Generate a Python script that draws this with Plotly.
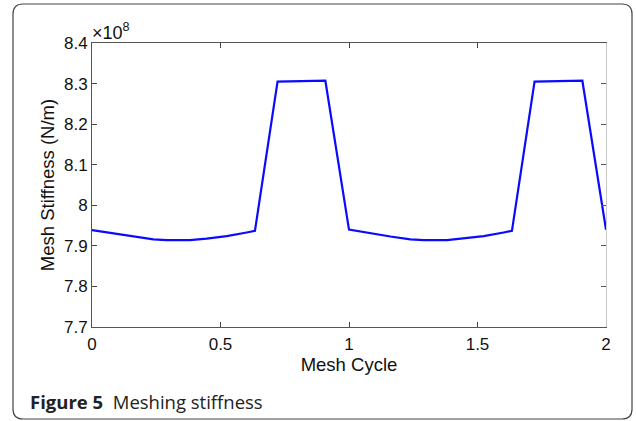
import plotly.graph_objects as go

W, H = 636, 421

# Data (stiffness in units of 1e8 N/m)
mesh_cycle = [0.0, 0.07, 0.161, 0.239, 0.291, 0.381, 0.446, 0.524, 0.602, 0.634,
              0.722, 0.81, 0.908,
              1.0, 1.07, 1.161, 1.239, 1.291, 1.381, 1.446, 1.524, 1.602, 1.634,
              1.722, 1.81, 1.908, 2.0]
stiffness = [7.939, 7.932, 7.923, 7.916, 7.914, 7.914, 7.918, 7.924, 7.933, 7.937,
             8.305, 8.306, 8.307,
             7.940, 7.932, 7.923, 7.916, 7.914, 7.914, 7.918, 7.924, 7.933, 7.937,
             8.305, 8.306, 8.307, 7.940]
x_ticks = [0, 0.5, 1, 1.5, 2]
x_tick_labels = ["0", "0.5", "1", "1.5", "2"]
y_ticks = [7.7, 7.8, 7.9, 8.0, 8.1, 8.2, 8.3, 8.4]
y_tick_labels = ["7.7", "7.8", "7.9", "8", "8.1", "8.2", "8.3", "8.4"]

# plot area in pixels
px0, px1, py0, py1 = 92, 606, 43, 327

fig = go.Figure()
fig.add_trace(go.Scatter(x=mesh_cycle, y=stiffness, mode="lines",
                         line=dict(color="#0a0aff", width=2.2), showlegend=False))
# invisible trace so the right-hand axis is drawn
fig.add_trace(go.Scatter(x=[0], y=[8.0], yaxis="y2", mode="markers",
                         marker=dict(opacity=0), showlegend=False, hoverinfo="skip"))

fam = "Liberation Sans, Arial, sans-serif"
tick_font = dict(family=fam, size=17, color="#111")
title_font = dict(family=fam, size=18.5, color="#111")
ydom = [1 - py1 / H, 1 - py0 / H]
fig.update_layout(
    width=W, height=H,
    margin=dict(l=0, r=0, t=0, b=0),
    paper_bgcolor="white", plot_bgcolor="white",
    xaxis=dict(domain=[px0 / W, px1 / W], range=[0, 2], tickvals=x_ticks,
               ticktext=x_tick_labels, ticks="inside", ticklen=5, tickcolor="#444",
               showline=True, linecolor="#555", linewidth=1, mirror="ticks",
               showgrid=False, zeroline=False, automargin=False,
               tickfont=tick_font, ticklabelstandoff=2,
               title=dict(text="Mesh Cycle", font=title_font, standoff=3)),
    yaxis=dict(domain=ydom, range=[7.7, 8.4], tickvals=y_ticks,
               ticktext=y_tick_labels, ticks="inside", ticklen=5, tickcolor="#444",
               showline=True, linecolor="#555", linewidth=1,
               showgrid=False, zeroline=False, automargin=False,
               tickfont=tick_font,
               title=dict(text="Mesh Stiffness (N/m)", font=title_font, standoff=4)),
    yaxis2=dict(overlaying="y", side="right", range=[7.7, 8.4], tickvals=y_ticks,
                showticklabels=False, ticks="inside", ticklen=5, tickcolor="#555",
                showline=True, linecolor="#c8c8c8", linewidth=1,
                showgrid=False, zeroline=False, automargin=False),
)

# exponent label
fig.add_annotation(x=px0 / W, y=1 - py0 / H, xref="paper", yref="paper",
                   text="×10<sup>8</sup>", showarrow=False, xanchor="left", yanchor="bottom",
                   font=dict(family=fam, size=18, color="#111"),
                   xshift=-2, yshift=-2)

# caption
fig.add_annotation(x=28 / W, y=1 - 401 / H, xref="paper", yref="paper",
                   text="<b>Figure 5</b>  Meshing stiffness", showarrow=False,
                   xanchor="left", yanchor="middle",
                   font=dict(family="Open Sans, sans-serif", size=18.5, color="#222"))

# rounded border
bx0, bx1, by0, by1, r = 13, 632, 4, 419, 10
def P(x, y):
    return f"{x / W:.5f},{1 - y / H:.5f}"
path = (f"M {P(bx0 + r, by0)} L {P(bx1 - r, by0)} Q {P(bx1, by0)} {P(bx1, by0 + r)} "
        f"L {P(bx1, by1 - r)} Q {P(bx1, by1)} {P(bx1 - r, by1)} "
        f"L {P(bx0 + r, by1)} Q {P(bx0, by1)} {P(bx0, by1 - r)} "
        f"L {P(bx0, by0 + r)} Q {P(bx0, by0)} {P(bx0 + r, by0)} Z")
fig.add_shape(type="path", path=path, xref="paper", yref="paper",
              line=dict(color="#444", width=1.2))

fig.write_html("out.html")
